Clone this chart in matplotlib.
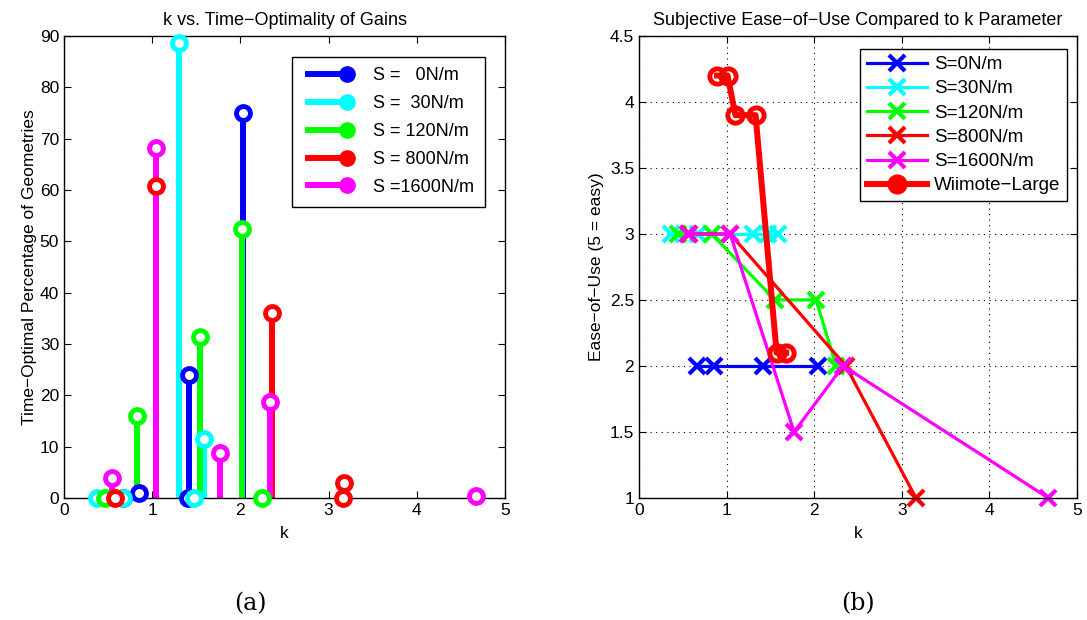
import matplotlib
matplotlib.use('Agg')
import matplotlib.pyplot as plt
from matplotlib.lines import Line2D
from matplotlib.legend_handler import HandlerLine2D

plt.rcParams['font.family'] = ['Liberation Sans', 'DejaVu Sans']
plt.rcParams['font.size'] = 12.5

# colours shared by both panels
colors = ['#0000ff', '#00ffff', '#00ff00', '#ff0000', '#ff00ff']

# (a) stem data: k value and time-optimal percentage per stiffness
stem_labels = ['S =   0N/m', 'S =  30N/m', 'S = 120N/m', 'S = 800N/m', 'S =1600N/m']
k_s0 = [0.67, 0.85, 1.41, 1.42, 2.03]
pct_s0 = [0, 0.9, 0, 24.0, 75.0]
k_s30 = [0.37, 0.67, 1.30, 1.47, 1.59]
pct_s30 = [0, 0, 88.6, 0, 11.4]
k_s120 = [0.47, 0.83, 1.545, 2.02, 2.25]
pct_s120 = [0, 16.0, 31.4, 52.3, 0]
k_s800 = [0.58, 1.04, 2.36, 3.16, 3.17]
pct_s800 = [0, 60.8, 36.1, 0, 2.8]
k_s1600 = [0.54, 1.04, 1.77, 2.33, 4.67]
pct_s1600 = [3.9, 68.2, 8.8, 18.6, 0.3]

# (b) subjective ease-of-use
line_labels = ['S=0N/m', 'S=30N/m', 'S=120N/m', 'S=800N/m', 'S=1600N/m']
ease_k_s0 = [0.66, 0.86, 1.42, 2.04]
ease_s0 = [2, 2, 2, 2]
ease_k_s30 = [0.37, 0.67, 1.30, 1.47, 1.59]
ease_s30 = [3, 3, 3, 3, 3]
ease_k_s120 = [0.45, 0.83, 1.55, 2.02, 2.25]
ease_s120 = [3, 3, 2.5, 2.5, 2]
ease_k_s800 = [0.57, 1.04, 2.36, 3.16]
ease_s800 = [3, 3, 2, 1]
ease_k_s1600 = [0.56, 1.04, 1.77, 2.33, 4.67]
ease_s1600 = [3, 3, 1.5, 2, 1]
wii_k = [0.89, 1.01, 1.10, 1.33, 1.57, 1.68]
wii_ease = [4.2, 4.2, 3.9, 3.9, 2.1, 2.1]

stem_k = [k_s0, k_s30, k_s120, k_s800, k_s1600]
stem_pct = [pct_s0, pct_s30, pct_s120, pct_s800, pct_s1600]
ease_k = [ease_k_s0, ease_k_s30, ease_k_s120, ease_k_s800, ease_k_s1600]
ease_v = [ease_s0, ease_s30, ease_s120, ease_s800, ease_s1600]


class MarkerAtEnd(HandlerLine2D):
    # matlab stem legends put the circle at the right end of the line
    def create_artists(self, legend, orig_handle, xdescent, ydescent,
                       width, height, fontsize, trans):
        arts = super().create_artists(legend, orig_handle, xdescent, ydescent,
                                      width, height, fontsize, trans)
        for a in arts:
            x = a.get_xdata()
            a.set_xdata([x[0], x[-1] - 0.09 * width, x[-1]])
            a.set_ydata([a.get_ydata()[0]] * 3)
            a.set_markevery([1])
        return arts


fig = plt.figure(figsize=(10.87, 6.2), dpi=100)
ax1 = fig.add_axes([0.0589, 0.197, 0.4057, 0.745])
ax2 = fig.add_axes([0.5879, 0.197, 0.403, 0.745])

# --- panel (a)
handles = []
for k, p, c, lab in zip(stem_k, stem_pct, colors, stem_labels):
    ax1.vlines(k, 0, p, color=c, lw=4.3, zorder=2)
    ax1.plot(k, p, ls='none', marker='o', ms=10, mec=c, mfc='white', mew=3.5,
             zorder=3, clip_on=False)
    handles.append(Line2D([0, 1], [0, 0], color=c, lw=4.3, marker='o', ms=11,
                          mfc=c, mec=c))
ax1.set_xlim(0, 5)
ax1.set_ylim(0, 90)
ax1.set_yticks(range(0, 91, 10))
ax1.set_title('k vs. Time\u2212Optimality of Gains', fontsize=13, pad=8)
ax1.set_xlabel('k', labelpad=6)
ax1.set_ylabel('Time\u2212Optimal Percentage of Geometries', labelpad=2)
leg1 = ax1.legend(handles, stem_labels, loc='upper right', numpoints=2,
                  handler_map={Line2D: MarkerAtEnd(numpoints=2)},
                  bbox_to_anchor=(0.975, 0.975), fancybox=False, framealpha=1,
                  edgecolor='black', handlelength=3.0, labelspacing=0.6,
                  borderpad=0.6, handletextpad=0.9, fontsize=13)
leg1.get_frame().set_linewidth(1.0)

# --- panel (b)
for k, v, c, lab in zip(ease_k, ease_v, colors, line_labels):
    ax2.plot(k, v, color=c, lw=2.3, marker='x', ms=11, mew=3.0, label=lab,
             clip_on=False)
ax2.plot(wii_k, wii_ease, color='#ff0000', lw=4.3, marker='o', ms=11, mfc='none',
         mew=3.5, label='Wiimote\u2212Large')
ax2.set_xlim(0, 5)
ax2.set_ylim(1, 4.5)
ax2.set_yticks([1, 1.5, 2, 2.5, 3, 3.5, 4, 4.5])
ax2.set_yticklabels(['1', '1.5', '2', '2.5', '3', '3.5', '4', '4.5'])
ax2.grid(True, color='black', ls=(0, (1, 4)), lw=0.8)
ax2.set_title('Subjective Ease\u2212of\u2212Use Compared to k Parameter', fontsize=13, pad=8)
ax2.set_xlabel('k', labelpad=6)
ax2.set_ylabel('Ease\u2212of\u2212Use (5 = easy)', labelpad=4)
leg2 = ax2.legend(loc='upper right', bbox_to_anchor=(0.99, 0.983), fancybox=False,
                  framealpha=1, edgecolor='black', handlelength=3.2,
                  labelspacing=0.38, borderpad=0.35, handletextpad=0.4,
                  fontsize=13.5, borderaxespad=0.3)
leg2.get_frame().set_linewidth(1.0)
leg2.legend_handles[-1].set_markerfacecolor('#ff0000')

for ax in (ax1, ax2):
    ax.tick_params(direction='in', top=True, right=True, length=5, width=0.8)
    for s in ax.spines.values():
        s.set_linewidth(1.0)

fig.text(0.2305, 0.027, '(a)', ha='center', va='center', fontsize=17, family='DejaVu Serif')
fig.text(0.789, 0.027, '(b)', ha='center', va='center', fontsize=17, family='DejaVu Serif')

fig.savefig('out.png', dpi=100)
